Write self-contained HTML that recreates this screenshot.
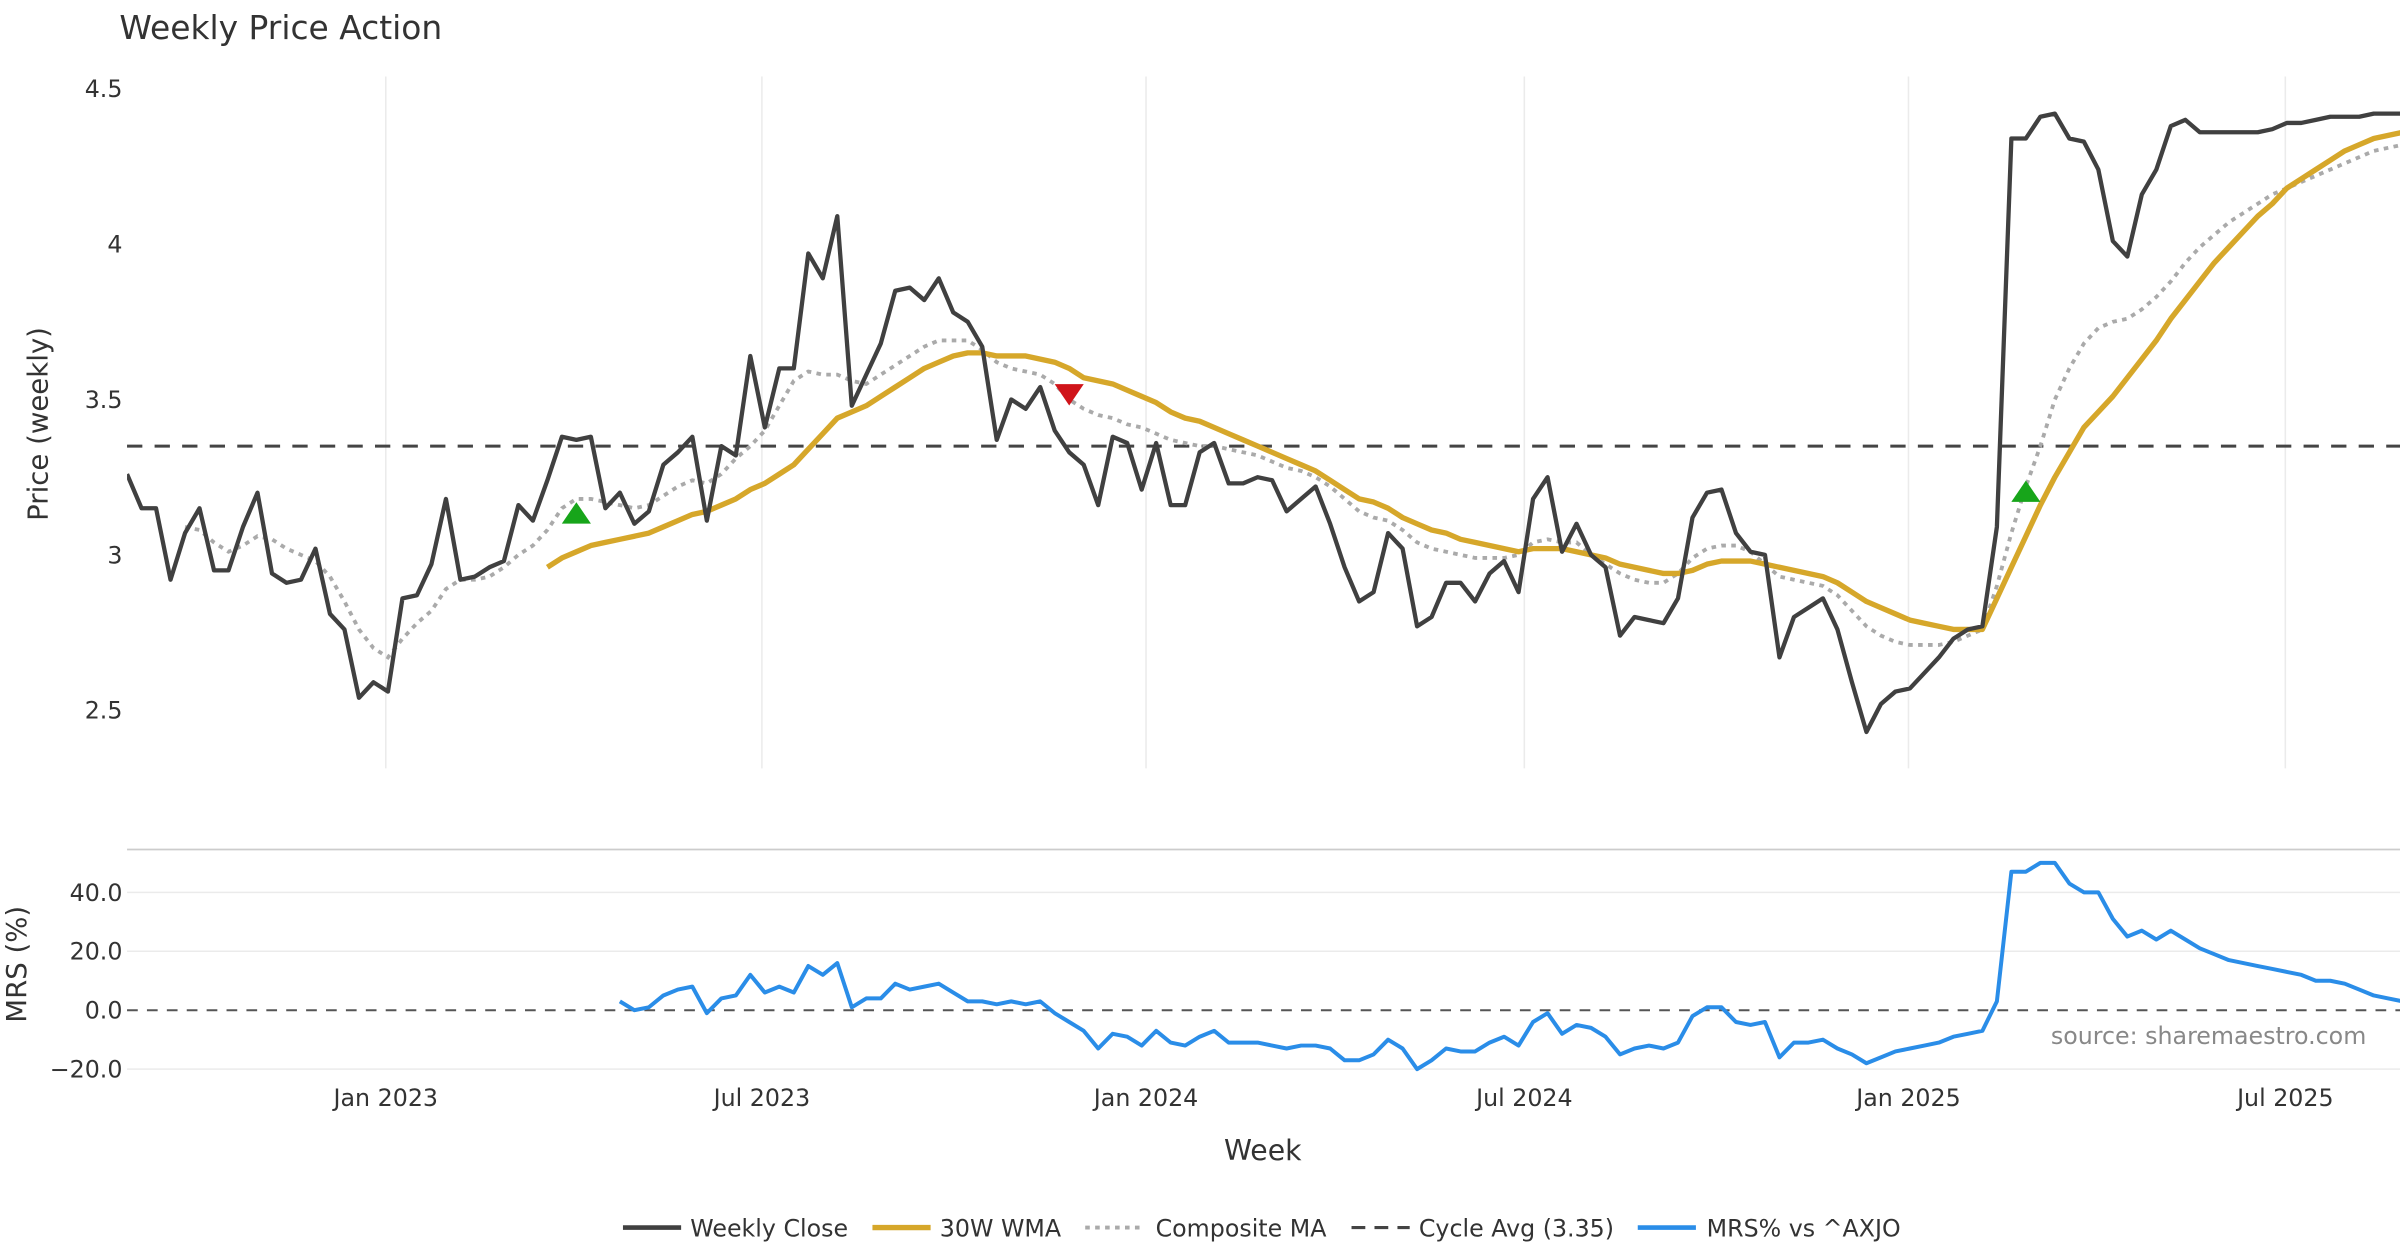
<!DOCTYPE html>
<html><head><meta charset="utf-8"><style>
html,body{margin:0;padding:0;background:#fff;}
svg{display:block;font-family:"DejaVu Sans","Liberation Sans",sans-serif;}
</style></head><body>
<svg id="chart" width="2400" height="1260" viewBox="0 0 1568 823.2" xmlns="http://www.w3.org/2000/svg">
<rect width="1568" height="823.2" fill="#fff"/>
<text x="78" y="25.5" font-size="21.5" fill="#333">Weekly Price Action</text>
<g id="grid"></g>
<g id="plots"></g>
<g id="axes"></g>
<text transform="translate(31,277) rotate(-90)" text-anchor="middle" font-size="18" fill="#333">Price (weekly)</text>
<text transform="translate(17,630) rotate(-90)" text-anchor="middle" font-size="18" fill="#333">MRS (%)</text>
<text x="825" y="758" text-anchor="middle" font-size="18.5" fill="#333">Week</text>
<text x="1546" y="682" text-anchor="end" font-size="15.5" fill="#888">source: sharemaestro.com</text>
<g id="legend">
 <line x1="407" y1="802" x2="445" y2="802" stroke="#404040" stroke-width="3"/>
 <text x="451" y="808" font-size="15.5" fill="#333">Weekly Close</text>
 <line x1="570" y1="802" x2="608" y2="802" stroke="#d6a72a" stroke-width="3.5"/>
 <text x="614" y="808" font-size="15.5" fill="#333">30W WMA</text>
 <line x1="709" y1="802" x2="747" y2="802" stroke="#aaa" stroke-width="2.5" stroke-dasharray="3,3.5"/>
 <text x="755" y="808" font-size="15.5" fill="#333">Composite MA</text>
 <line x1="883" y1="802" x2="921" y2="802" stroke="#444" stroke-width="2" stroke-dasharray="9,6"/>
 <text x="927" y="808" font-size="15.5" fill="#333">Cycle Avg (3.35)</text>
 <line x1="1070" y1="802" x2="1108" y2="802" stroke="#2a8de8" stroke-width="3"/>
 <text x="1115" y="808" font-size="15.5" fill="#333">MRS% vs ^AXJO</text>
</g>
</svg>
<script>
const closeVals=[3.26,3.15,3.15,2.92,3.07,3.15,2.95,2.95,3.09,3.20,2.94,2.91,2.92,3.02,2.81,2.76,2.54,2.59,2.56,2.86,2.87,2.97,3.18,2.92,2.93,2.96,2.98,3.16,3.11,3.24,3.38,3.37,3.38,3.15,3.20,3.10,3.14,3.29,3.33,3.38,3.11,3.35,3.32,3.64,3.41,3.60,3.60,3.97,3.89,4.09,3.48,3.58,3.68,3.85,3.86,3.82,3.89,3.78,3.75,3.67,3.37,3.50,3.47,3.54,3.40,3.33,3.29,3.16,3.38,3.36,3.21,3.36,3.16,3.16,3.33,3.36,3.23,3.23,3.25,3.24,3.14,3.18,3.22,3.10,2.96,2.85,2.88,3.07,3.02,2.77,2.80,2.91,2.91,2.85,2.94,2.98,2.88,3.18,3.25,3.01,3.10,3.00,2.96,2.74,2.80,2.79,2.78,2.86,3.12,3.20,3.21,3.07,3.01,3.00,2.67,2.80,2.83,2.86,2.76,2.59,2.43,2.52,2.56,2.57,2.62,2.67,2.73,2.76,2.77,3.09,4.34,4.34,4.41,4.42,4.34,4.33,4.24,4.01,3.96,4.16,4.24,4.38,4.40,4.36,4.36,4.36,4.36,4.36,4.37,4.39,4.39,4.40,4.41,4.41,4.41,4.42,4.42,4.42];
const wmaStart=29;
const wmaVals=[2.96,2.99,3.01,3.03,3.04,3.05,3.06,3.07,3.09,3.11,3.13,3.14,3.16,3.18,3.21,3.23,3.26,3.29,3.34,3.39,3.44,3.46,3.48,3.51,3.54,3.57,3.60,3.62,3.64,3.65,3.65,3.64,3.64,3.64,3.63,3.62,3.60,3.57,3.56,3.55,3.53,3.51,3.49,3.46,3.44,3.43,3.41,3.39,3.37,3.35,3.33,3.31,3.29,3.27,3.24,3.21,3.18,3.17,3.15,3.12,3.10,3.08,3.07,3.05,3.04,3.03,3.02,3.01,3.02,3.02,3.02,3.01,3.00,2.99,2.97,2.96,2.95,2.94,2.94,2.95,2.97,2.98,2.98,2.98,2.97,2.96,2.95,2.94,2.93,2.91,2.88,2.85,2.83,2.81,2.79,2.78,2.77,2.76,2.76,2.76,2.86,2.96,3.06,3.16,3.25,3.33,3.41,3.46,3.51,3.57,3.63,3.69,3.76,3.82,3.88,3.94,3.99,4.04,4.09,4.13,4.18,4.21,4.24,4.27,4.30,4.32,4.34,4.35,4.36];
const compStart=4;
const compVals=[3.09,3.08,3.04,3.01,3.03,3.06,3.05,3.02,3.00,2.98,2.93,2.85,2.76,2.70,2.67,2.73,2.78,2.82,2.89,2.92,2.92,2.93,2.96,3.00,3.03,3.08,3.15,3.18,3.18,3.17,3.16,3.15,3.16,3.19,3.22,3.24,3.23,3.26,3.31,3.35,3.40,3.48,3.56,3.59,3.58,3.58,3.56,3.55,3.58,3.61,3.64,3.67,3.69,3.69,3.69,3.66,3.62,3.60,3.59,3.58,3.55,3.50,3.47,3.45,3.44,3.42,3.41,3.39,3.37,3.36,3.35,3.35,3.34,3.33,3.32,3.30,3.28,3.27,3.25,3.22,3.18,3.14,3.12,3.11,3.08,3.04,3.02,3.01,3.00,2.99,2.99,2.99,3.00,3.04,3.05,3.04,3.04,3.00,2.97,2.94,2.92,2.91,2.91,2.94,2.99,3.02,3.03,3.03,3.01,2.97,2.93,2.92,2.91,2.90,2.87,2.82,2.77,2.74,2.72,2.71,2.71,2.71,2.72,2.74,2.76,2.90,3.07,3.22,3.35,3.50,3.60,3.68,3.73,3.75,3.76,3.79,3.83,3.88,3.94,3.99,4.03,4.07,4.10,4.13,4.16,4.18,4.20,4.22,4.24,4.26,4.28,4.30,4.31,4.32];
const mrsStart=34;
const mrsVals=[3,0,1,5,7,8,-1,4,5,12,6,8,6,15,12,16,1,4,4,9,7,8,9,6,3,3,2,3,2,3,-1,-4,-7,-13,-8,-9,-12,-7,-11,-12,-9,-7,-11,-11,-11,-12,-13,-12,-12,-13,-17,-17,-15,-10,-13,-20,-17,-13,-14,-14,-11,-9,-12,-4,-1,-8,-5,-6,-9,-15,-13,-12,-13,-11,-2,1,1,-4,-5,-4,-16,-11,-11,-10,-13,-15,-18,-16,-14,-13,-12,-11,-9,-8,-7,3,47,47,50,50,43,40,40,31,25,27,24,27,24,21,19,17,16,15,14,13,12,10,10,9,7,5,4,3];
const cycleAvg=3.35;
const xTickLabels=["Jan 2023","Jul 2023","Jan 2024","Jul 2024","Jan 2025","Jul 2025"];
const xTickWeeks=[17.85,43.8,70.3,96.4,122.9,148.9];
const priceTicks=[2.5,3,3.5,4,4.5];
const priceTickLabels=["2.5","3","3.5","4","4.5"];
const mrsTicks=[-20,0,20,40];
const mrsTickLabels=["\u221220.0","0.0","20.0","40.0"];
const buySignals=[[31,3.13],[131,3.20]];
const sellSignals=[[65,3.52]];

const NS="http://www.w3.org/2000/svg";
const X=i=>83+i*9.47;
const YP=v=>58+(4.5-v)*203;
const YM=v=>660-v*38.5/20;
function mk(tag,attrs,parent){const e=document.createElementNS(NS,tag);for(const k in attrs)e.setAttribute(k,attrs[k]);parent.appendChild(e);return e;}
const grid=document.getElementById('grid'),plots=document.getElementById('plots'),axes=document.getElementById('axes');
const defs=mk('defs',{},plots);
const cp=mk('clipPath',{id:'clipP'},defs);mk('rect',{x:83,y:45,width:1485,height:460},cp);

xTickWeeks.forEach((w,k)=>{
 const g=mk('line',{x1:X(w),x2:X(w),y1:50,y2:502,stroke:'#ebebeb','stroke-width':1},grid);
 
 
 const t=mk('text',{x:X(w),y:722.5,'text-anchor':'middle','font-size':15.5,fill:'#333'},axes);
 t.textContent=xTickLabels[k];
 
 
});
priceTicks.forEach((v,k)=>{
 const t=mk('text',{x:80,y:YP(v)+5.5,'text-anchor':'end','font-size':15.5,fill:'#333'},axes);
 t.textContent=priceTickLabels[k];
 
 
});
const sep=mk('line',{x1:83,x2:1568,y1:555,y2:555,stroke:'#ccc','stroke-width':1.2},grid);


mrsTicks.forEach((v,k)=>{
 if(v!==0){const g=mk('line',{x1:83,x2:1568,y1:YM(v),y2:YM(v),stroke:'#ebebeb','stroke-width':1},grid);
 
 }
 const t=mk('text',{x:80,y:YM(v)+5.5,'text-anchor':'end','font-size':15.5,fill:'#333'},axes);
 t.textContent=mrsTickLabels[k];
 
 
});
const z=mk('line',{x1:83,x2:1568,y1:YM(0),y2:YM(0),stroke:'#555','stroke-width':1.3,'stroke-dasharray':'7,6'},plots);



function path(vals,start,Y){return vals.map((v,j)=>(j?'L':'M')+X(start+j).toFixed(2)+','+Y(v).toFixed(2)).join(' ');}
const ca=mk('line',{x1:83,x2:1568,y1:YP(cycleAvg),y2:YP(cycleAvg),stroke:'#444','stroke-width':2,'stroke-dasharray':'10,8'},plots);


const pc=mk('path',{d:path(compVals,compStart,YP),fill:'none',stroke:'#aaa','stroke-width':2.5,'stroke-dasharray':'3,3.5','clip-path':'url(#clipP)'},plots);


const pw=mk('path',{d:path(wmaVals,wmaStart,YP),fill:'none',stroke:'#d6a72a','stroke-width':3.5,'stroke-linejoin':'round','clip-path':'url(#clipP)'},plots);


const pcl=mk('path',{d:path(closeVals,0,YP),fill:'none',stroke:'#404040','stroke-width':2.8,'stroke-linejoin':'round','clip-path':'url(#clipP)'},plots);


const pm=mk('path',{d:path(mrsVals,mrsStart,YM),fill:'none',stroke:'#2a8de8','stroke-width':2.6,'stroke-linejoin':'round'},plots);


buySignals.forEach(s=>{const x=X(s[0]),y=YP(s[1]);
 const t=mk('polygon',{points:`${x-9.5},${y+6} ${x+9.5},${y+6} ${x},${y-8}`,fill:'#17a51a'},plots);
 
 });
sellSignals.forEach(s=>{const x=X(s[0]),y=YP(s[1]);
 const t=mk('polygon',{points:`${x-9.5},${y-6} ${x+9.5},${y-6} ${x},${y+8}`,fill:'#d0141a'},plots);
 
 });
</script>
</body></html>
